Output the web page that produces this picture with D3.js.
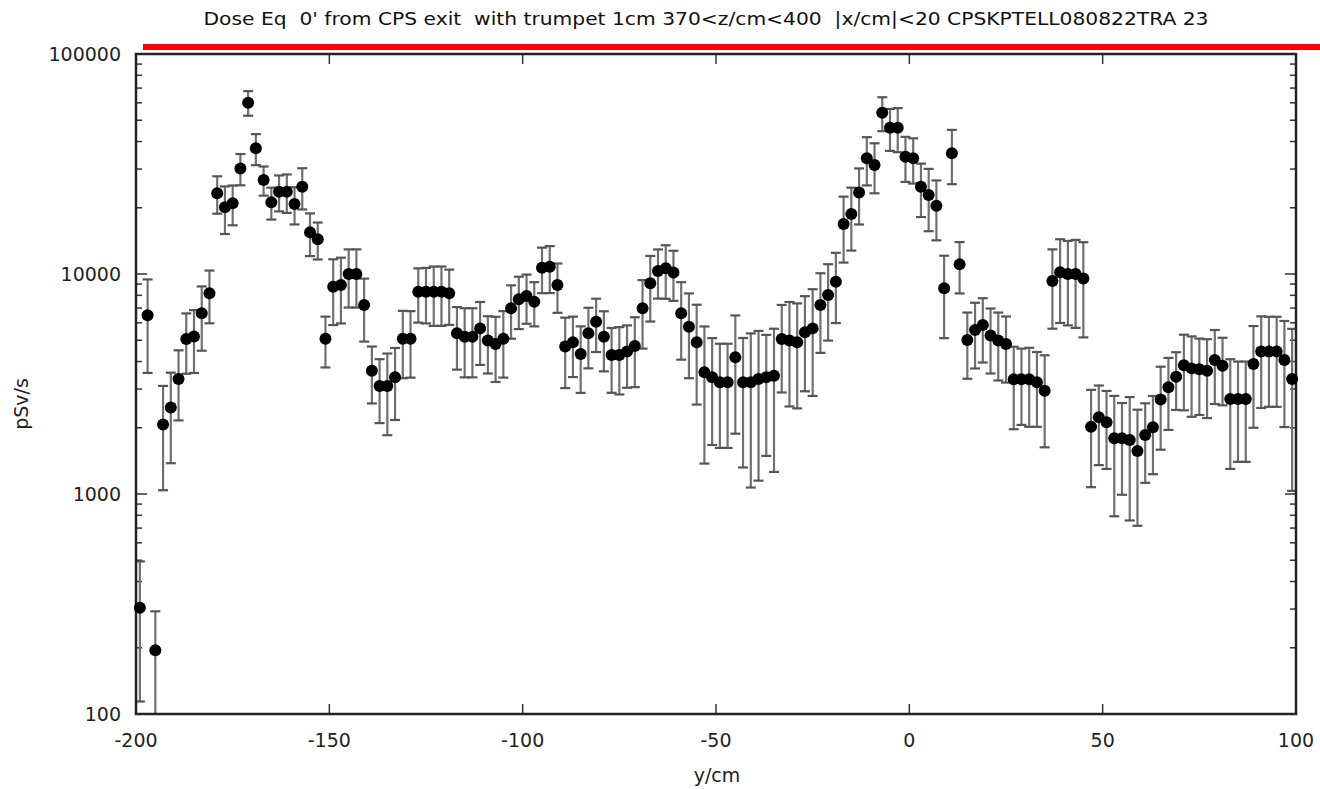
<!DOCTYPE html>
<html>
<head>
<meta charset="utf-8">
<script src="https://cdn.jsdelivr.net/npm/d3@7"></script>
<style>
  html, body { margin: 0; padding: 0; background: #fff; }
  svg { display: block; font-family: "DejaVu Sans", sans-serif; }
  .tick-label { font-size: 19px; fill: #222; }
  .title { white-space: pre; }
</style>
</head>
<body>
<svg id="chart" width="1320" height="789"></svg>
<script>
const title = "Dose Eq  0' from CPS exit  with trumpet 1cm 370<z/cm<400  |x/cm|<20 CPSKPTELL080822TRA 23";

// bin centres along y (cm)
const binY = [
  -199, -197, -195, -193, -191, -189, -187, -185, -183, -181,
  -179, -177, -175, -173, -171, -169, -167, -165, -163, -161,
  -159, -157, -155, -153, -151, -149, -147, -145, -143, -141,
  -139, -137, -135, -133, -131, -129, -127, -125, -123, -121,
  -119, -117, -115, -113, -111, -109, -107, -105, -103, -101,
  -99, -97, -95, -93, -91, -89, -87, -85, -83, -81,
  -79, -77, -75, -73, -71, -69, -67, -65, -63, -61,
  -59, -57, -55, -53, -51, -49, -47, -45, -43, -41,
  -39, -37, -35, -33, -31, -29, -27, -25, -23, -21,
  -19, -17, -15, -13, -11, -9, -7, -5, -3, -1,
  1, 3, 5, 7, 9, 11, 13, 15, 17, 19,
  21, 23, 25, 27, 29, 31, 33, 35, 37, 39,
  41, 43, 45, 47, 49, 51, 53, 55, 57, 59,
  61, 63, 65, 67, 69, 71, 73, 75, 77, 79,
  81, 83, 85, 87, 89, 91, 93, 95, 97, 99
];

// dose (pSv/s)
const dose = [
  304, 6500, 195, 2070, 2470, 3330, 5070, 5200, 6630, 8170,
  23300, 20100, 20950, 30200, 60100, 37250, 26750, 21180, 23650, 23650,
  20800, 24950, 15460, 14390, 5080, 8760, 8910, 9990, 9990, 7230,
  3630, 3100, 3100, 3390, 5080, 5080, 8310, 8310, 8310, 8310,
  8170, 5375, 5190, 5190, 5660, 4980, 4810, 5080, 6980, 7670,
  7940, 7480, 10680, 10790, 8910, 4680, 4900, 4330, 5375, 6070,
  5190, 4285, 4285, 4440, 4710, 6980, 9080, 10330, 10610, 10150,
  6630, 5760, 4900, 3575, 3390, 3220, 3220, 4180, 3220, 3220,
  3330, 3390, 3450, 5065, 4980, 4900, 5430, 5660, 7230, 8030,
  9230, 16870, 18730, 23490, 33570, 31270, 54070, 46270, 46270, 34120,
  33570, 24950, 22850, 20420, 8610, 35400, 11060, 5010, 5560, 5860,
  5250, 4980, 4810, 3320, 3320, 3320, 3220, 2950, 9290, 10190,
  9990, 9990, 9550, 2024, 2233, 2120, 1792, 1792, 1758, 1567,
  1854, 2010, 2690, 3055, 3410, 3850, 3724, 3686, 3634, 4065,
  3830, 2700, 2700, 2700, 3900, 4440, 4440, 4440, 4065, 3333
];

// absolute error (pSv/s)
const doseErr = [
  190, 2950, 98, 1030, 1090, 1170, 1550, 1650, 2150, 2200,
  4500, 4900, 4300, 4900, 7700, 6000, 4050, 3500, 4400, 4700,
  4000, 5300, 3400, 2750, 1320, 2900, 2950, 2950, 2950, 2300,
  1050, 1000, 1250, 1220, 1720, 1700, 2300, 2350, 2500, 2500,
  2300, 1700, 1800, 1800, 1800, 1450, 1580, 1700, 1900, 2050,
  2000, 1700, 2500, 2600, 2250, 1650, 1500, 1450, 1650, 1650,
  1580, 1400, 1450, 1400, 1650, 2400, 3000, 2600, 2900, 2600,
  2550, 2400, 2350, 2200, 1720, 1600, 1600, 2300, 1900, 2150,
  2180, 1900, 2190, 2170, 2480, 2450, 2500, 2870, 2850, 3050,
  3250, 5600, 5950, 6700, 8300, 8000, 9500, 10000, 10500, 7900,
  7800, 6800, 7200, 6200, 3500, 9800, 2900, 1670, 1840, 1900,
  1720, 1700, 1600, 1350, 1260, 1300, 1200, 1320, 3650, 4200,
  4150, 4300, 4400, 950, 880, 820, 1000, 800, 1000, 850,
  730, 780, 1100, 1100, 1000, 1450, 1480, 1400, 1420, 1500,
  1300, 1400, 1300, 1300, 1900, 1980, 1950, 1950, 2050, 2300
];

const xTicks = [-200, -150, -100, -50, 0, 50, 100];
const yTicks = [100, 1000, 10000, 100000];

const points = binY.map((y, i) => ({ y, v: dose[i], e: doseErr[i] }));

const width = 1320;
const height = 789;
const margin = { top: 54, right: 24, bottom: 75, left: 136 };
const svg = d3.select("#chart");

const x = d3.scaleLinear().domain([-200, 100]).range([margin.left, width - margin.right]);
const y = d3.scaleLog().domain([100, 100000]).range([height - margin.bottom, margin.top]);
const x0 = x.range()[0], x1 = x.range()[1];
const yTop = y.range()[1], yBot = y.range()[0];

svg.append("defs").append("clipPath").attr("id", "plot-clip")
  .append("rect").attr("x", x0).attr("y", yTop).attr("width", x1 - x0).attr("height", yBot - yTop);

// title and the red key sample line
svg.append("text")
  .attr("class", "title")
  .attr("x", 706).attr("y", 25)
  .attr("text-anchor", "middle")
  .attr("font-size", 18)
  .attr("fill", "#111")
  .attr("textLength", 1005)
  .attr("lengthAdjust", "spacingAndGlyphs")
  .text(title);

svg.append("rect").attr("x", 143).attr("y", 44).attr("width", width - 143).attr("height", 6).attr("fill", "#ff0000");

// minor + major ticks on the log axis, mirrored on both sides
const minor = [];
yTicks.slice(0, -1).forEach(t => { for (let k = 2; k <= 9; k++) minor.push(t * k); });
const tickG = svg.append("g").attr("stroke", "#333").attr("stroke-width", 1.5);
minor.forEach(v => {
  tickG.append("line").attr("x1", x0).attr("x2", x0 + 6).attr("y1", y(v)).attr("y2", y(v));
  tickG.append("line").attr("x1", x1).attr("x2", x1 - 6).attr("y1", y(v)).attr("y2", y(v));
});
yTicks.forEach(v => {
  tickG.append("line").attr("x1", x0).attr("x2", x0 + 11).attr("y1", y(v)).attr("y2", y(v));
  tickG.append("line").attr("x1", x1).attr("x2", x1 - 11).attr("y1", y(v)).attr("y2", y(v));
});
xTicks.forEach(t => {
  tickG.append("line").attr("x1", x(t)).attr("x2", x(t)).attr("y1", yBot).attr("y2", yBot - 10);
  tickG.append("line").attr("x1", x(t)).attr("x2", x(t)).attr("y1", yTop).attr("y2", yTop + 10);
});

// tick labels
svg.append("g").selectAll("text")
  .data(yTicks)
  .join("text")
  .attr("class", "tick-label")
  .attr("x", x0 - 15)
  .attr("y", d => y(d))
  .attr("dy", "0.36em")
  .attr("text-anchor", "end")
  .text(d => d);

svg.append("g").selectAll("text")
  .data(xTicks)
  .join("text")
  .attr("class", "tick-label")
  .attr("x", d => x(d))
  .attr("y", yBot + 33)
  .attr("text-anchor", "middle")
  .text(d => d);

svg.append("text").attr("class", "tick-label").attr("x", (x0 + x1) / 2 + 1).attr("y", 782)
  .attr("text-anchor", "middle").text("y/cm");
svg.append("text").attr("class", "tick-label")
  .attr("transform", `translate(28,${(yTop + yBot) / 2 + 20}) rotate(-90)`)
  .attr("text-anchor", "middle").text("pSv/s");

// error bars
const bars = svg.append("g").attr("clip-path", "url(#plot-clip)")
  .attr("stroke", "#707070").attr("stroke-width", 2.2);
const lo = d => Math.max(d.v - d.e, 50);
bars.selectAll("line.err")
  .data(points)
  .join("line")
  .attr("class", "err")
  .attr("x1", d => x(d.y)).attr("x2", d => x(d.y))
  .attr("y1", d => y(d.v + d.e)).attr("y2", d => y(lo(d)));
bars.selectAll("line.cap-hi")
  .data(points)
  .join("line")
  .attr("class", "cap-hi")
  .attr("stroke", "#555")
  .attr("x1", d => x(d.y) - 5).attr("x2", d => x(d.y) + 5)
  .attr("y1", d => y(d.v + d.e)).attr("y2", d => y(d.v + d.e));
bars.selectAll("line.cap-lo")
  .data(points.filter(d => d.v - d.e > 100))
  .join("line")
  .attr("class", "cap-lo")
  .attr("stroke", "#555")
  .attr("x1", d => x(d.y) - 5).attr("x2", d => x(d.y) + 5)
  .attr("y1", d => y(d.v - d.e)).attr("y2", d => y(d.v - d.e));

// frame
svg.append("rect")
  .attr("x", x0).attr("y", yTop).attr("width", x1 - x0).attr("height", yBot - yTop)
  .attr("fill", "none").attr("stroke", "#222").attr("stroke-width", 2.5);

// points
svg.append("g").selectAll("circle")
  .data(points)
  .join("circle")
  .attr("cx", d => x(d.y))
  .attr("cy", d => y(d.v))
  .attr("r", 6)
  .attr("fill", "#000");
</script>
</body>
</html>
